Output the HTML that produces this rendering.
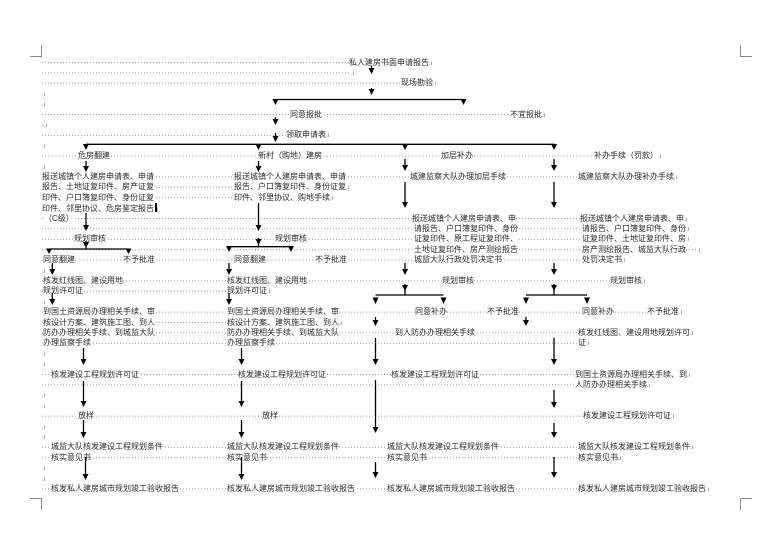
<!DOCTYPE html>
<html><head><meta charset="utf-8">
<style>
html,body{margin:0;padding:0;background:#fff;}
#w{position:relative;width:781px;height:549px;overflow:hidden;background:#fff;}
svg{position:absolute;left:0;top:0;}
.t{position:absolute;font-family:"Liberation Sans","Noto Sans CJK SC",sans-serif;font-size:8px;line-height:10px;height:10px;color:#2a2a2a;background:#fff;white-space:nowrap;}
.m{font-size:6px;color:#666;}
</style></head><body><div id="w">
<svg width="781" height="549" style="z-index:0">
<g stroke="#9c9c9c" stroke-width="1" stroke-dasharray="1 2" fill="none">
<line x1="42" y1="62.5" x2="349" y2="62.5"/>
<line x1="42" y1="72.9" x2="351" y2="72.9"/>
<line x1="42" y1="83.3" x2="401" y2="83.3"/>
<line x1="42" y1="114.5" x2="510" y2="114.5"/>
<line x1="42" y1="135.3" x2="286" y2="135.3"/>
<line x1="42" y1="156.1" x2="594" y2="156.1"/>
<line x1="42" y1="176.9" x2="578" y2="176.9"/>
<line x1="42" y1="187.3" x2="234" y2="187.3"/>
<line x1="42" y1="197.7" x2="234" y2="197.7"/>
<line x1="42" y1="218.5" x2="580" y2="218.5"/>
<line x1="42" y1="228.9" x2="582" y2="228.9"/>
<line x1="42" y1="239.3" x2="582" y2="239.3"/>
<line x1="42" y1="249.7" x2="582" y2="249.7"/>
<line x1="686" y1="249.7" x2="697" y2="249.7"/>
<line x1="42" y1="260.1" x2="582" y2="260.1"/>
<line x1="42" y1="280.9" x2="610" y2="280.9"/>
<line x1="42" y1="291.3" x2="227" y2="291.3"/>
<line x1="42" y1="312.1" x2="647" y2="312.1"/>
<line x1="42" y1="322.5" x2="227" y2="322.5"/>
<line x1="42" y1="332.9" x2="578" y2="332.9"/>
<line x1="42" y1="343.3" x2="578" y2="343.3"/>
<line x1="42" y1="374.5" x2="575" y2="374.5"/>
<line x1="42" y1="384.9" x2="575" y2="384.9"/>
<line x1="42" y1="416.1" x2="583" y2="416.1"/>
<line x1="42" y1="447.3" x2="578" y2="447.3"/>
<line x1="42" y1="457.7" x2="578" y2="457.7"/>
<line x1="42" y1="488.9" x2="578" y2="488.9"/>
</g>
<g stroke="#8a8a8a" stroke-width="1" fill="none">
<polyline points="30,56.5 41.5,56.5 41.5,45"/>
<polyline points="740.5,45 740.5,56.5 752,56.5"/>
<polyline points="30,498.5 41.5,498.5 41.5,510"/>
<polyline points="752,498.5 740.5,498.5 740.5,510"/>
</g>
</svg>

<!-- text layer -->
<div class="t" style="left:349px;top:57.5px">私人建房书面申请报告<span class="m">.ı</span></div>
<div class="t" style="left:351px;top:67.9px"><span class="m">.ı</span></div>
<div class="t" style="left:401px;top:78.3px">现场勘验<span class="m">.ı</span></div>
<div class="t" style="left:42px;top:88.7px"><span class="m">.ı</span></div>
<div class="t" style="left:42px;top:99.1px"><span class="m">.ı</span></div>
<div class="t" style="left:290px;top:109.5px">同意报批</div>
<div class="t" style="left:510px;top:109.5px">不宜报批<span class="m">.ı</span></div>
<div class="t" style="left:42px;top:119.9px"><span class="m">-.ı</span></div>
<div class="t" style="left:286px;top:130.3px">领取申请表<span class="m">.ı</span></div>
<div class="t" style="left:42px;top:140.7px"><span class="m">.ı</span></div>
<div class="t" style="left:78px;top:151.1px">危房翻建</div>
<div class="t" style="left:258px;top:151.1px">新村（购地）建房</div>
<div class="t" style="left:441px;top:151.1px">加层补办</div>
<div class="t" style="left:594px;top:151.1px">补办手续（罚款）<span class="m">.ı</span></div>
<div class="t" style="left:42px;top:161.5px"><span class="m">.ı</span></div>

<div class="t" style="left:42px;top:171.9px">报送城镇个人建房申请表、申请</div>
<div class="t" style="left:234px;top:171.9px">报送城镇个人建房申请表、申请</div>
<div class="t" style="left:410px;top:171.9px">城建监察大队办理加层手续</div>
<div class="t" style="left:578px;top:171.9px">城建监察大队办理补办手续<span class="m">.ı</span></div>
<div class="t" style="left:42px;top:182.3px">报告、土地证复印件、房产证复</div>
<div class="t" style="left:234px;top:182.3px">报告、户口簿复印件、身份证复<span class="m">.ı</span></div>
<div class="t" style="left:42px;top:192.7px">印件、户口簿复印件、身份证复</div>
<div class="t" style="left:234px;top:192.7px">印件、邻里协议、购地手续<span class="m">.ı</span></div>
<div class="t" style="left:42px;top:203.1px">印件、邻里协议、危房鉴定报告<span style="display:inline-block;width:1.5px;height:9px;background:#000;vertical-align:-1px;margin-left:1px"></span><span class="m">ı</span></div>
<div class="t" style="left:44px;top:213.5px">（C级）</div>
<div class="t" style="left:412px;top:213.5px">报送城镇个人建房申请表、申</div>
<div class="t" style="left:580px;top:213.5px">报送城镇个人建房申请表、申<span class="m">.ı</span></div>
<div class="t" style="left:414px;top:223.9px">请报告、户口簿复印件、身份</div>
<div class="t" style="left:582px;top:223.9px">请报告、户口簿复印件、身份<span class="m">.ı</span></div>
<div class="t" style="left:74px;top:234.3px">规划审核</div>
<div class="t" style="left:275px;top:234.3px">规划审核</div>
<div class="t" style="left:414px;top:234.3px">证复印件、原工程证复印件、</div>
<div class="t" style="left:582px;top:234.3px">证复印件、土地证复印件、房<span class="m">.ı</span></div>
<div class="t" style="left:414px;top:244.7px">土地证复印件、房产测绘报告</div>
<div class="t" style="left:582px;top:244.7px">房产测绘报告、城监大队行政</div>
<div class="t" style="left:697px;top:244.7px"><span class="m">.ı</span></div>
<div class="t" style="left:43px;top:255.1px">同意翻建</div>
<div class="t" style="left:123px;top:255.1px">不予批准</div>
<div class="t" style="left:234px;top:255.1px">同意翻建</div>
<div class="t" style="left:315px;top:255.1px">不予批准</div>
<div class="t" style="left:414px;top:255.1px">城监大队行政处罚决定书</div>
<div class="t" style="left:582px;top:255.1px">处罚决定书<span class="m">.ı</span></div>
<div class="t" style="left:42px;top:265.5px"><span class="m">.ı</span></div>
<div class="t" style="left:43px;top:275.9px">核发红线图、建设用地</div>
<div class="t" style="left:227px;top:275.9px">核发红线图、建设用地</div>
<div class="t" style="left:442px;top:275.9px">规划审核</div>
<div class="t" style="left:610px;top:275.9px">规划审核<span class="m">.ı</span></div>
<div class="t" style="left:43px;top:286.3px">规划许可证</div>
<div class="t" style="left:227px;top:286.3px">规划许可证<span class="m">.ı</span></div>
<div class="t" style="left:42px;top:296.7px"><span class="m">.ı</span></div>
<div class="t" style="left:43px;top:307.1px">到国土资源局办理相关手续、审</div>
<div class="t" style="left:227px;top:307.1px">到国土资源局办理相关手续、审</div>
<div class="t" style="left:415px;top:307.1px">同意补办</div>
<div class="t" style="left:487px;top:307.1px">不予批准</div>
<div class="t" style="left:582px;top:307.1px">同意补办</div>
<div class="t" style="left:647px;top:307.1px">不予批准<span class="m">.ı</span></div>
<div class="t" style="left:43px;top:317.5px">核设计方案、建筑施工图、到人</div>
<div class="t" style="left:227px;top:317.5px">核设计方案、建筑施工图、到人<span class="m">.ı</span></div>
<div class="t" style="left:43px;top:327.9px">防办办理相关手续、到城监大队</div>
<div class="t" style="left:227px;top:327.9px">防办办理相关手续、到城监大队</div>
<div class="t" style="left:395px;top:327.9px">到人防办办理相关手续</div>
<div class="t" style="left:578px;top:327.9px">核发红线图、建设用地规划许可<span class="m">.ı</span></div>
<div class="t" style="left:43px;top:338.3px">办理监察手续</div>
<div class="t" style="left:227px;top:338.3px">办理监察手续</div>
<div class="t" style="left:578px;top:338.3px">证<span class="m">.ı</span></div>
<div class="t" style="left:42px;top:348.7px"><span class="m">.ı</span></div>
<div class="t" style="left:42px;top:359.1px"><span class="m">.ı</span></div>
<div class="t" style="left:51px;top:369.5px">核发建设工程规划许可证</div>
<div class="t" style="left:238px;top:369.5px">核发建设工程规划许可证</div>
<div class="t" style="left:391px;top:369.5px">核发建设工程规划许可证</div>
<div class="t" style="left:575px;top:369.5px">到国土资源局办理相关手续、到<span class="m">.ı</span></div>
<div class="t" style="left:575px;top:379.9px">人防办办理相关手续<span class="m">.ı</span></div>
<div class="t" style="left:42px;top:390.3px"><span class="m">.ı</span></div>
<div class="t" style="left:42px;top:400.7px"><span class="m">.ı</span></div>
<div class="t" style="left:78px;top:411.1px">放样</div>
<div class="t" style="left:262px;top:411.1px">放样</div>
<div class="t" style="left:583px;top:411.1px">核发建设工程规划许可证<span class="m">.ı</span></div>
<div class="t" style="left:42px;top:421.5px"><span class="m">.ı</span></div>
<div class="t" style="left:42px;top:431.9px"><span class="m">.ı</span></div>
<div class="t" style="left:51px;top:442.3px">城监大队核发建设工程规划条件</div>
<div class="t" style="left:227px;top:442.3px">城监大队核发建设工程规划条件</div>
<div class="t" style="left:387px;top:442.3px">城监大队核发建设工程规划条件</div>
<div class="t" style="left:578px;top:442.3px">城监大队核发建设工程规划条件<span class="m">.ı</span></div>
<div class="t" style="left:51px;top:452.7px">核实意见书</div>
<div class="t" style="left:227px;top:452.7px">核实意见书</div>
<div class="t" style="left:387px;top:452.7px">核实意见书</div>
<div class="t" style="left:578px;top:452.7px">核实意见书<span class="m">.ı</span></div>
<div class="t" style="left:42px;top:463.1px"><span class="m">.ı</span></div>
<div class="t" style="left:42px;top:473.5px"><span class="m">.ı</span></div>
<div class="t" style="left:51px;top:483.9px">核发私人建房城市规划竣工验收报告</div>
<div class="t" style="left:227px;top:483.9px">核发私人建房城市规划竣工验收报告</div>
<div class="t" style="left:387px;top:483.9px">核发私人建房城市规划竣工验收报告</div>
<div class="t" style="left:578px;top:483.9px">核发私人建房城市规划竣工验收报告<span class="m">.ı</span></div>

<svg width="781" height="549" style="z-index:2">
<g stroke="#000" stroke-width="1.3" fill="none">
<!-- vertical stems -->
<line x1="371.5" y1="66" x2="371.5" y2="70"/>
<line x1="371.5" y1="88" x2="371.5" y2="91"/>
<line x1="275.5" y1="99.5" x2="463.5" y2="99.5"/>
<line x1="275.5" y1="99.5" x2="275.5" y2="101"/>
<line x1="463.5" y1="99.5" x2="463.5" y2="101"/>
<line x1="275.5" y1="117" x2="275.5" y2="121"/>
<line x1="275.5" y1="133" x2="275.5" y2="138"/>
<line x1="86" y1="144.3" x2="554.5" y2="144.3"/>
<line x1="86" y1="161" x2="86" y2="168"/>
<line x1="258.5" y1="161" x2="258.5" y2="168"/>
<line x1="405" y1="159" x2="405" y2="167"/>
<line x1="554" y1="159" x2="554" y2="167"/>
<line x1="405" y1="182" x2="405" y2="204"/>
<line x1="554" y1="182" x2="554" y2="204"/>
<line x1="86" y1="213" x2="86" y2="227"/>
<line x1="258.5" y1="203" x2="258.5" y2="227"/>
<line x1="86" y1="241" x2="86" y2="249"/>
<line x1="49" y1="249" x2="128.5" y2="249"/>
<line x1="258.5" y1="238" x2="258.5" y2="246.7"/>
<line x1="229" y1="246.7" x2="291" y2="246.7"/>
<line x1="52.3" y1="263" x2="52.3" y2="271"/>
<line x1="52.3" y1="293" x2="52.3" y2="301"/>
<line x1="83.5" y1="348" x2="83.5" y2="361"/>
<line x1="83.5" y1="381" x2="83.5" y2="403"/>
<line x1="83.5" y1="420" x2="83.5" y2="434"/>
<line x1="85.5" y1="457" x2="85.5" y2="476"/>
<line x1="229" y1="263" x2="229" y2="271"/>
<line x1="229" y1="293" x2="229" y2="301"/>
<line x1="241.5" y1="348" x2="241.5" y2="361"/>
<line x1="241.5" y1="381" x2="241.5" y2="403"/>
<line x1="241.5" y1="420" x2="241.5" y2="434"/>
<line x1="241.5" y1="457" x2="241.5" y2="476"/>
<line x1="405" y1="263" x2="405" y2="271"/>
<line x1="405" y1="284" x2="405" y2="295"/>
<line x1="375.5" y1="295" x2="443.5" y2="295"/>
<line x1="375.5" y1="317" x2="375.5" y2="322"/>
<line x1="375.5" y1="338" x2="375.5" y2="361"/>
<line x1="375.5" y1="380" x2="375.5" y2="429"/>
<line x1="375.5" y1="462" x2="375.5" y2="474"/>
<line x1="554" y1="263" x2="554" y2="271"/>
<line x1="554" y1="284" x2="554" y2="295"/>
<line x1="526" y1="295" x2="587" y2="295"/>
<line x1="526" y1="317" x2="526" y2="322"/>
<line x1="554" y1="338" x2="554" y2="361"/>
<line x1="554" y1="390" x2="554" y2="404"/>
<line x1="554" y1="423" x2="554" y2="434"/>
<line x1="554" y1="457" x2="554" y2="474"/>
</g>
<g fill="#000">
<polygon points="368.5,68 374.5,68 371.5,74"/>
<polygon points="368.5,89 374.5,89 371.5,95"/>
<polygon points="272.5,99 278.5,99 275.5,105"/>
<polygon points="460.5,99 466.5,99 463.5,105"/>
<polygon points="272.5,119 278.5,119 275.5,125"/>
<polygon points="272.5,136 278.5,136 275.5,142"/>
<polygon points="83,144 89,144 86,150"/>
<polygon points="255.5,144 261.5,144 258.5,150"/>
<polygon points="402,144 408,144 405,150"/>
<polygon points="551,144 557,144 554,150"/>
<polygon points="83,166 89,166 86,172"/>
<polygon points="255.5,166 261.5,166 258.5,172"/>
<polygon points="402,165 408,165 405,171"/>
<polygon points="551,165 557,165 554,171"/>
<polygon points="402,202 408,202 405,208"/>
<polygon points="551,202 557,202 554,208"/>
<polygon points="83,225 89,225 86,231"/>
<polygon points="255.5,225 261.5,225 258.5,231"/>
<polygon points="83,242 89,242 86,248"/>
<polygon points="46,248.5 52,248.5 49,254"/>
<polygon points="125.5,248.5 131.5,248.5 128.5,254"/>
<polygon points="255.5,239 261.5,239 258.5,245"/>
<polygon points="226,246 232,246 229,252"/>
<polygon points="288,246 294,246 291,252"/>
<polygon points="49.3,269 55.3,269 52.3,275"/>
<polygon points="49.3,299 55.3,299 52.3,305"/>
<polygon points="80.5,359 86.5,359 83.5,365"/>
<polygon points="80.5,401 86.5,401 83.5,407"/>
<polygon points="80.5,432 86.5,432 83.5,438"/>
<polygon points="82.5,474 88.5,474 85.5,480"/>
<polygon points="226,269 232,269 229,275"/>
<polygon points="226,299 232,299 229,305"/>
<polygon points="238.5,359 244.5,359 241.5,365"/>
<polygon points="238.5,401 244.5,401 241.5,407"/>
<polygon points="238.5,432 244.5,432 241.5,438"/>
<polygon points="238.5,474 244.5,474 241.5,480"/>
<polygon points="402,269 408,269 405,275"/>
<polygon points="402,285 408,285 405,291"/>
<polygon points="372.5,297.5 378.5,297.5 375.5,304"/>
<polygon points="440.5,297.5 446.5,297.5 443.5,304"/>
<polygon points="372.5,320 378.5,320 375.5,326"/>
<polygon points="372.5,359 378.5,359 375.5,365"/>
<polygon points="372.5,427 378.5,427 375.5,433"/>
<polygon points="372.5,472 378.5,472 375.5,478"/>
<polygon points="551,269 557,269 554,275"/>
<polygon points="551,285 557,285 554,291"/>
<polygon points="523,297.5 529,297.5 526,304"/>
<polygon points="584,297.5 590,297.5 587,304"/>
<polygon points="523,320 529,320 526,326"/>
<polygon points="551,359 557,359 554,365"/>
<polygon points="551,402 557,402 554,408"/>
<polygon points="551,432 557,432 554,438"/>
<polygon points="551,472 557,472 554,478"/>
</g>
</svg>
</div></body></html>
